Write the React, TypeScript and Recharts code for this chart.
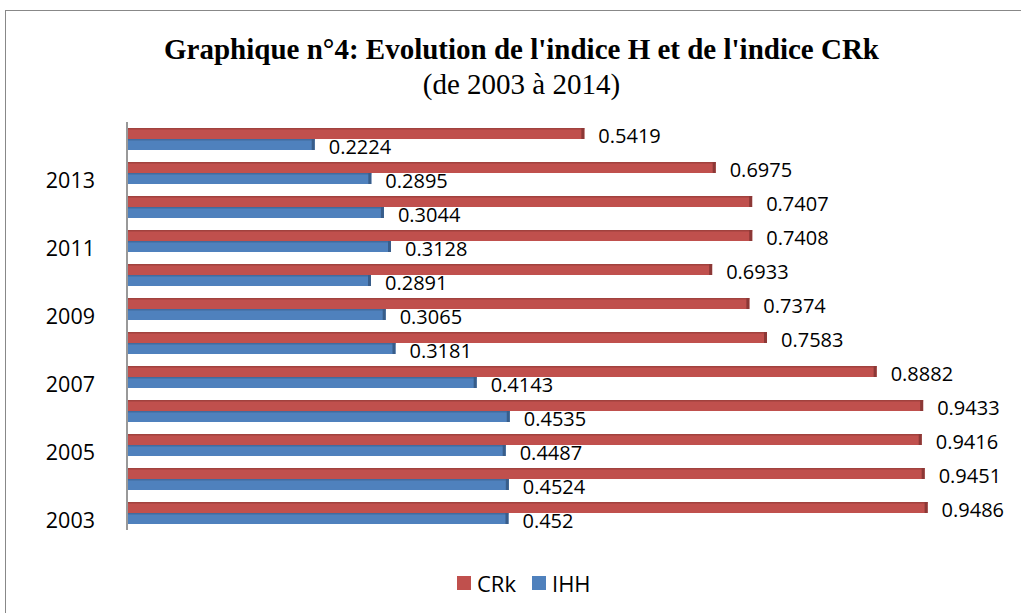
import { BarChart, Bar, XAxis, YAxis, LabelList } from "recharts";

const years = ["2003", "2004", "2005", "2006", "2007", "2008", "2009", "2010", "2011", "2012", "2013", "2014"];
const crk = [0.9486, 0.9451, 0.9416, 0.9433, 0.8882, 0.7583, 0.7374, 0.6933, 0.7408, 0.7407, 0.6975, 0.5419];
const ihh = [0.452, 0.4524, 0.4487, 0.4535, 0.4143, 0.3181, 0.3065, 0.2891, 0.3128, 0.3044, 0.2895, 0.2224];

const data = years.map((year, i) => ({ year, CRk: crk[i], IHH: ihh[i] }));

const FONT = "'Open Sans', 'Noto Sans', sans-serif";
const RED = "#C0504D";
const BLUE = "#4F81BD";

// flat bar with a darker top edge and end cap, to hint at the 3D look of the original
const Bar3D = (color: string, dark: string) => (props: any) => {
  const { x, y, width, height } = props;
  if (!width || width <= 0) return null;
  return (
    <g>
      <rect x={x} y={y} width={width} height={height} fill={color} />
      <rect x={x} y={y} width={width} height={1.5} fill={dark} opacity={0.6} />
      <rect x={x + width - 3} y={y} width={3} height={height} fill={dark} />
    </g>
  );
};

const renderLabel = (props: any) => {
  const { x, y, width, height, value } = props;
  return (
    <text x={x + width + 14} y={y + height / 2 + 4} fill="#000" fontSize={20} fontFamily={FONT} dominantBaseline="middle">
      {value}
    </text>
  );
};

export default function App() {
  return (
    <div style={{ position: "absolute", left: 0, top: 0, width: 1021, height: 613, background: "#fff", overflow: "hidden" }}>
      <div
        style={{
          position: "absolute",
          left: 5,
          top: 10,
          width: 1030,
          height: 620,
          border: "1.5px solid #888",
          boxSizing: "border-box",
        }}
      />
      <div
        style={{
          position: "absolute",
          left: 0,
          top: 32,
          width: 1043,
          textAlign: "center",
          fontFamily: "'Liberation Serif', 'Times New Roman', serif",
          color: "#000",
          lineHeight: "35px",
        }}
      >
        <div style={{ fontSize: 29, fontWeight: "bold" }}>Graphique n°4: Evolution de l'indice H et de l'indice CRk</div>
        <div style={{ fontSize: 29 }}>(de 2003 à 2014)</div>
      </div>
      <div style={{ position: "absolute", left: 0, top: 0 }}>
        <BarChart
          width={1021}
          height={613}
          data={data}
          layout="vertical"
          margin={{ top: 122, right: 50, bottom: 83, left: 20 }}
          barGap={0}
          barSize={11}
        >
          <XAxis type="number" domain={[0, 1]} hide />
          <YAxis
            type="category"
            dataKey="year"
            reversed
            width={107}
            interval={1}
            axisLine={{ stroke: "#999", strokeWidth: 2 }}
            tickLine={false}
            tickMargin={26}
            tick={{ fill: "#000", fontSize: 21.5, fontFamily: FONT, dy: 7 }}
          />
          <Bar dataKey="CRk" name="CRk" fill={RED} shape={Bar3D(RED, "#8C3836")} isAnimationActive={false}>
            <LabelList dataKey="CRk" content={renderLabel} />
          </Bar>
          <Bar dataKey="IHH" name="IHH" fill={BLUE} shape={Bar3D(BLUE, "#385D8A")} isAnimationActive={false}>
            <LabelList dataKey="IHH" content={renderLabel} />
          </Bar>
        </BarChart>
      </div>
      <div
        style={{
          position: "absolute",
          left: 457,
          top: 569,
          display: "flex",
          alignItems: "center",
          fontFamily: FONT,
          fontSize: 22,
          color: "#000",
          lineHeight: "28px",
        }}
      >
        <span style={{ width: 14, height: 14, background: RED, display: "inline-block", marginRight: 6 }} />
        <span style={{ marginRight: 16 }}>CRk</span>
        <span style={{ width: 14, height: 14, background: BLUE, display: "inline-block", marginRight: 6 }} />
        <span>IHH</span>
      </div>
    </div>
  );
}
